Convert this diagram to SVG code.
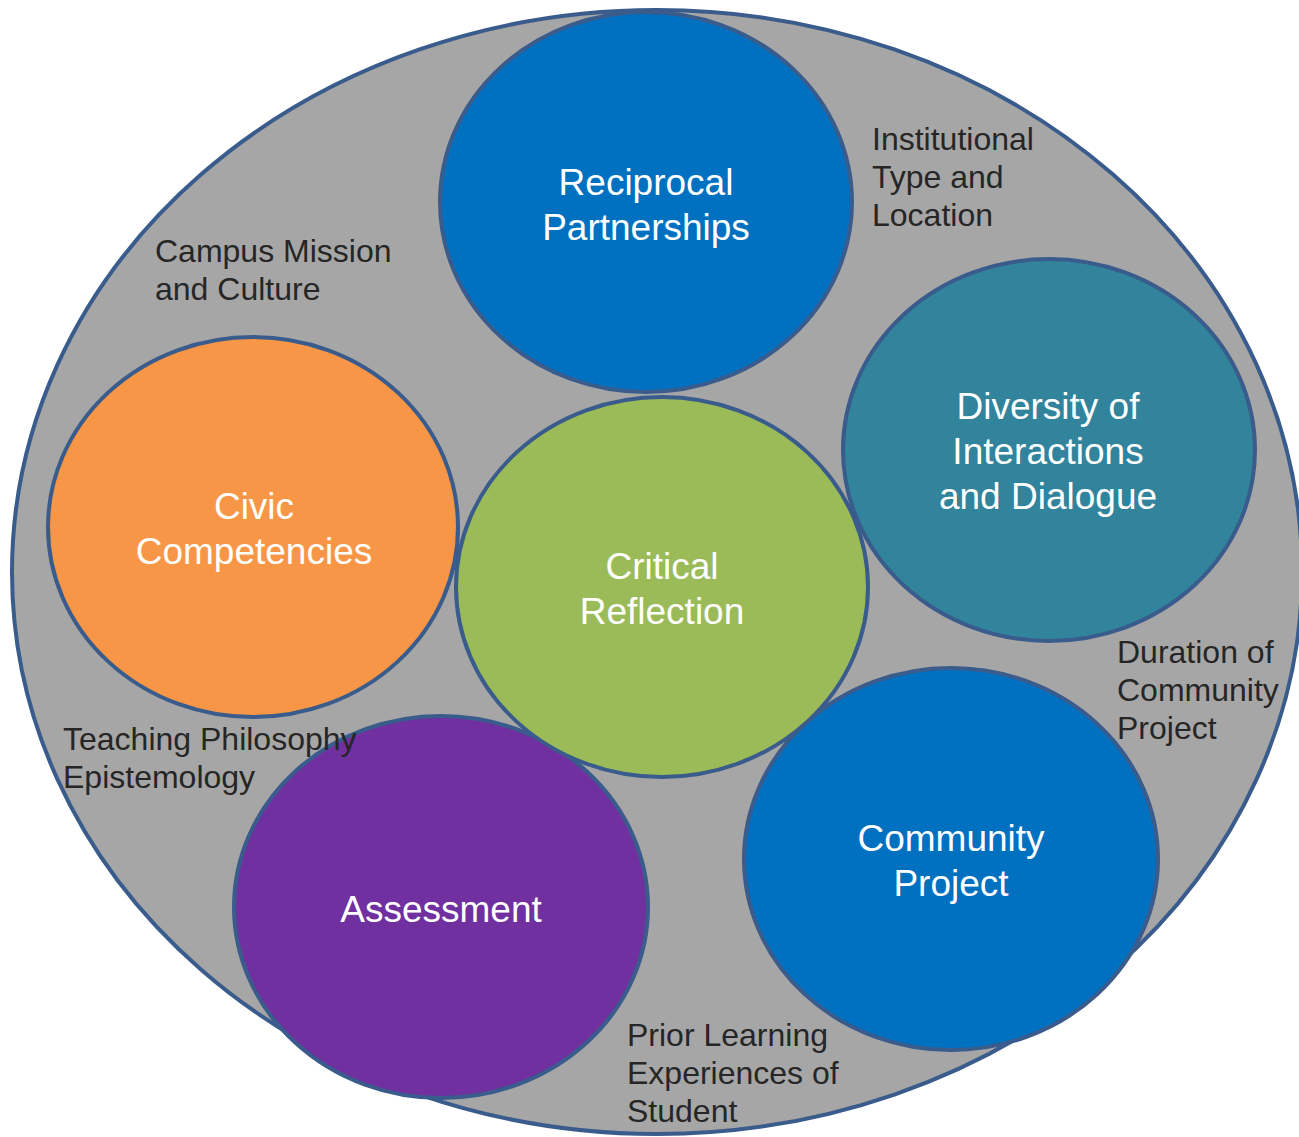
<svg xmlns="http://www.w3.org/2000/svg" width="1299" height="1137" viewBox="0 0 1299 1137">
<style>
.c{stroke:#3A5C8C;stroke-width:4}
.w{font-family:"Liberation Sans",Arial,sans-serif;font-size:37px;fill:#FFFFFF;text-anchor:middle}
.g{font-family:"Liberation Sans",Arial,sans-serif;font-size:32px;fill:#262626}
</style>
<rect width="1299" height="1137" fill="#FFFFFF"/>
<g id="context">
<ellipse class="c" cx="657" cy="572" rx="645" ry="562" fill="#A6A6A6"/>
</g>
<g id="connectors"></g>
<g id="reciprocal">
<ellipse class="c" cx="646" cy="202" rx="206" ry="190" fill="#0070C0"/>
<text class="w" x="646" y="195">Reciprocal</text>
<text class="w" x="646" y="240">Partnerships</text>
</g>
<g id="diversity">
<ellipse class="c" cx="1049" cy="450" rx="206" ry="191" fill="#31849B"/>
<text class="w" x="1048" y="419">Diversity of</text>
<text class="w" x="1048" y="464">Interactions</text>
<text class="w" x="1048" y="509">and Dialogue</text>
</g>
<g id="community">
<ellipse class="c" cx="951" cy="859" rx="207" ry="191" fill="#0070C0"/>
<text class="w" x="951" y="851">Community</text>
<text class="w" x="951" y="896">Project</text>
</g>
<g id="assessment">
<ellipse class="c" cx="441" cy="907" rx="207" ry="191" fill="#7030A0"/>
<text class="w" x="441" y="922">Assessment</text>
</g>
<g id="civic">
<ellipse class="c" cx="253" cy="527" rx="205" ry="190" fill="#F79646"/>
<text class="w" x="254" y="519">Civic</text>
<text class="w" x="254" y="564">Competencies</text>
</g>
<g id="critical">
<ellipse class="c" cx="662" cy="587" rx="206" ry="190" fill="#9BBB59"/>
<text class="w" x="662" y="579">Critical</text>
<text class="w" x="662" y="624">Reflection</text>
</g>
<g id="labels">
<text class="g" x="155" y="262">Campus Mission</text>
<text class="g" x="155" y="300">and Culture</text>
<text class="g" x="872" y="150">Institutional</text>
<text class="g" x="872" y="188">Type and</text>
<text class="g" x="872" y="226">Location</text>
<text class="g" x="63" y="750">Teaching Philosophy</text>
<text class="g" x="63" y="788">Epistemology</text>
<text class="g" x="1117" y="663">Duration of</text>
<text class="g" x="1117" y="701">Community</text>
<text class="g" x="1117" y="739">Project</text>
<text class="g" x="627" y="1046">Prior Learning</text>
<text class="g" x="627" y="1084">Experiences of</text>
<text class="g" x="627" y="1122">Student</text>
</g>
</svg>
